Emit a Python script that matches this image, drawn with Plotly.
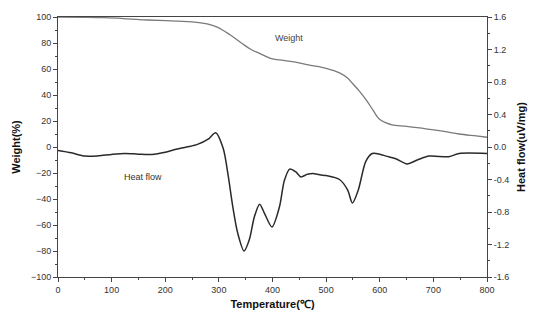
import plotly.graph_objects as go

# Weight curve (%)
w_temp = [0, 50, 87, 130, 167, 210, 255, 280, 298, 320, 342, 360, 376, 398, 413, 440, 469, 500, 525, 540, 549, 562, 575, 588, 599, 612, 623, 650, 686, 720, 748, 780, 800]
w_val = [100, 99.8, 99.5, 98.6, 97.7, 97, 96, 94.5, 92, 86.5, 80, 75, 72, 68, 67, 65.5, 63, 60.5, 57, 53, 49, 43, 36, 28, 21.5, 18.5, 17, 15.8, 14, 12, 10, 8.5, 7.5]

# Heat flow curve (uV/mg)
h_temp = [0, 25, 50, 75, 100, 125, 150, 175, 200, 218, 240, 260, 280, 294, 308, 317, 326, 335, 347, 357, 366, 376, 385, 399, 413, 422, 432, 443, 453, 465, 478, 490, 500, 525, 540, 549, 560, 574, 586, 600, 612, 630, 651, 670, 692, 729, 748, 800]
h_val = [-2.7, -4.5, -7, -6.8, -5.7, -5, -5.5, -5.7, -4, -2, 0, 2, 6, 11, -1, -21, -46, -66, -80, -71, -54, -44, -51, -61.5, -46, -26, -17, -19, -23, -21, -20.5, -21.5, -22, -25, -33, -43, -33, -11, -5, -5.5, -7, -9, -13, -10, -7, -7.5, -5, -5]
h_val = [v * 0.016 for v in h_val]

x_ticks = [0, 100, 200, 300, 400, 500, 600, 700, 800]
y1_ticks = [100, 80, 60, 40, 20, 0, -20, -40, -60, -80, -100]
y2_ticks = [1.6, 1.2, 0.8, 0.4, 0.0, -0.4, -0.8, -1.2, -1.6]

fig = go.Figure()
fig.add_trace(go.Scatter(x=w_temp, y=w_val, mode="lines", line=dict(color="#7a7a7a", width=1.3, shape="spline"), yaxis="y", showlegend=False))
fig.add_trace(go.Scatter(x=h_temp, y=h_val, mode="lines", line=dict(color="#2a2a2a", width=1.5, shape="spline", smoothing=0.8), yaxis="y2", showlegend=False))

tickfont = dict(family="Liberation Sans", size=9, color="#333")
titlefont = dict(family="Liberation Sans", size=11, color="#111")

fig.update_layout(
    width=537, height=320,
    margin=dict(l=58, r=49, t=13, b=42),
    paper_bgcolor="white", plot_bgcolor="white",
    xaxis=dict(range=[0, 800], tickvals=x_ticks, ticks="outside", ticklen=4, tickcolor="#444",
               showline=True, linecolor="#444", linewidth=1, mirror=True, showgrid=False, zeroline=False,
               tickfont=tickfont, minor=dict(dtick=50, ticks="outside", ticklen=2, tickcolor="#444"),
               title=dict(text="<b>Temperature(℃)</b>", font=titlefont, standoff=6)),
    yaxis=dict(range=[-100, 100], tickvals=y1_ticks, ticks="outside", ticklen=4, tickcolor="#444",
               showline=True, linecolor="#444", linewidth=1, showgrid=False, zeroline=False,
               tickfont=tickfont, minor=dict(dtick=10, ticks="outside", ticklen=2, tickcolor="#444"),
               title=dict(text="<b>Weight(%)</b>", font=titlefont, standoff=8)),
    yaxis2=dict(range=[-1.6, 1.6], tickvals=y2_ticks, ticktext=[f"{v:.1f}" for v in y2_ticks],
                overlaying="y", side="right", ticks="outside", ticklen=4, tickcolor="#444",
                showline=True, linecolor="#444", linewidth=1, showgrid=False, zeroline=False,
                tickfont=tickfont, minor=dict(dtick=0.2, ticks="outside", ticklen=2, tickcolor="#444"),
                title=dict(text="<b>Heat flow(uV/mg)</b>", font=titlefont, standoff=8)),
    annotations=[
        dict(x=400, y=84, xref="x", yref="y", text="Weight", showarrow=False, xanchor="left",
             font=dict(family="Liberation Sans", size=9, color="#444")),
        dict(x=119, y=-23, xref="x", yref="y", text="Heat flow", showarrow=False, xanchor="left",
             font=dict(family="Liberation Sans", size=9, color="#333")),
    ],
)

fig.write_html("out.html")
